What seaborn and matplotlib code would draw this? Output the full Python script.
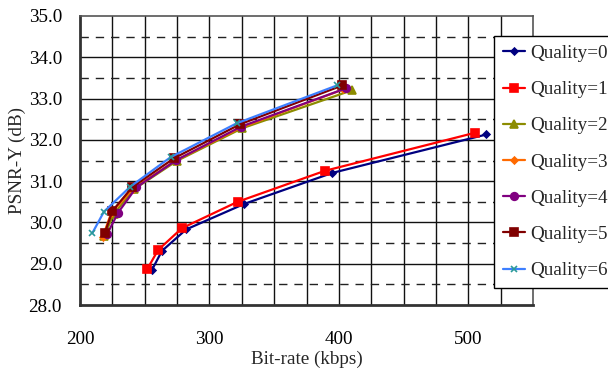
import matplotlib
matplotlib.use("Agg")
import matplotlib.pyplot as plt
import seaborn as sns
import pandas as pd
from matplotlib.ticker import MultipleLocator, FixedLocator

labels = ["Quality=0", "Quality=1", "Quality=2", "Quality=3", "Quality=4", "Quality=5", "Quality=6"]
rate_q0 = [255.6, 263.3, 282.0, 327.0, 395.0, 514.0]
psnr_q0 = [28.85, 29.31, 29.83, 30.45, 31.20, 32.13]
rate_q1 = [251.8, 260.3, 278.7, 321.8, 389.2, 505.0]
psnr_q1 = [28.86, 29.33, 29.86, 30.50, 31.25, 32.17]
rate_q2 = [218.5, 226.0, 241.5, 274.8, 325.2, 410.0]
psnr_q2 = [29.66, 30.20, 30.80, 31.49, 32.28, 33.20]
rate_q3 = [217.4, 224.0, 241.0, 274.0, 324.5, 403.3]
psnr_q3 = [29.64, 30.22, 30.82, 31.50, 32.30, 33.22]
rate_q4 = [221.0, 229.5, 243.6, 274.4, 324.4, 405.6]
psnr_q4 = [29.72, 30.24, 30.85, 31.51, 32.32, 33.25]
rate_q5 = [219.2, 225.1, 240.5, 273.0, 323.8, 402.8]
psnr_q5 = [29.75, 30.28, 30.86, 31.56, 32.38, 33.32]
rate_q6 = [209.5, 218.5, 239.0, 270.0, 321.0, 398.7]
psnr_q6 = [29.74, 30.26, 30.87, 31.58, 32.40, 33.32]
x_ticks = [200, 300, 400, 500]
y_ticks = [28.0, 29.0, 30.0, 31.0, 32.0, 33.0, 34.0, 35.0]

rates = [rate_q0, rate_q1, rate_q2, rate_q3, rate_q4, rate_q5, rate_q6]
psnrs = [psnr_q0, psnr_q1, psnr_q2, psnr_q3, psnr_q4, psnr_q5, psnr_q6]

line_colors = ["#000080", "#FF0000", "#8C8C00", "#FF6A00", "#800080", "#800000", "#3D7FFF"]
marker_colors = ["#000080", "#FF0000", "#8C8C00", "#FF6A00", "#800080", "#800000", "#2A9A9A"]
markers = ["D", "s", "^", "D", "o", "s", "x"]
msizes = [3.5, 5.5, 5.5, 3.5, 5.5, 5.5, 5]

sns.set_theme(style="white")
plt.rcParams["font.family"] = ["Liberation Serif", "DejaVu Serif"]

FS = 13.8

fig = plt.figure(figsize=(6.08, 3.74), dpi=100)
ax = fig.add_axes([80/608, 1-305/374, 453/608, 289/374])

for lab, r, p, lc, mc, mk, ms in zip(labels, rates, psnrs, line_colors, marker_colors, markers, msizes):
    df = pd.DataFrame({"rate": r, "psnr": p})
    sns.lineplot(data=df, x="rate", y="psnr", ax=ax, color=lc, lw=1.6, marker=mk,
                 markersize=ms, markerfacecolor=mc, markeredgecolor=mc, markeredgewidth=1.2,
                 label=lab, sort=False, zorder=3)

ax.set_xlim(200, 550)
ax.set_ylim(28, 35)
ax.xaxis.set_major_locator(FixedLocator(x_ticks))
ax.xaxis.set_minor_locator(MultipleLocator(25))
ax.yaxis.set_major_locator(FixedLocator(y_ticks))
ax.yaxis.set_minor_locator(MultipleLocator(0.5))
ax.set_yticklabels([f"{v:.1f}" for v in y_ticks])
ax.set_xticklabels([str(v) for v in x_ticks])

ax.grid(False)
for xv in range(225, 550, 25):
    ax.axvline(xv, color="#111111", lw=1.0, zorder=1)
for yv in range(29, 35):
    ax.axhline(yv, color="#111111", lw=1.0, zorder=1)
for k in range(7):
    ax.axhline(28.5 + k, color="#222222", lw=1.0, ls=(0, (6, 5)), zorder=1)

ax.tick_params(axis="both", which="both", length=0, labelsize=FS, colors="black")
ax.tick_params(axis="x", pad=19)
ax.tick_params(axis="y", pad=13)
for s in ["left", "bottom"]:
    ax.spines[s].set_color("#333333")
    ax.spines[s].set_linewidth(2)
for s in ["top", "right"]:
    ax.spines[s].set_color("#555555")
    ax.spines[s].set_linewidth(1.2)

ax.set_xlabel("Bit-rate (kbps)", fontsize=FS, labelpad=2)
ax.set_ylabel("PSNR-Y (dB)", fontsize=FS, labelpad=2)

leg = ax.legend(loc="upper left", bbox_to_anchor=(494/608, 1-36/374), bbox_transform=fig.transFigure,
                frameon=True, fancybox=False, framealpha=1, edgecolor="black", fontsize=FS,
                handlelength=1.15, handletextpad=0.3, labelspacing=0.98, borderpad=0.45,
                borderaxespad=0)
leg.get_frame().set_linewidth(1.0)
leg.set_zorder(10)

fig.savefig("out.png", dpi=100)
